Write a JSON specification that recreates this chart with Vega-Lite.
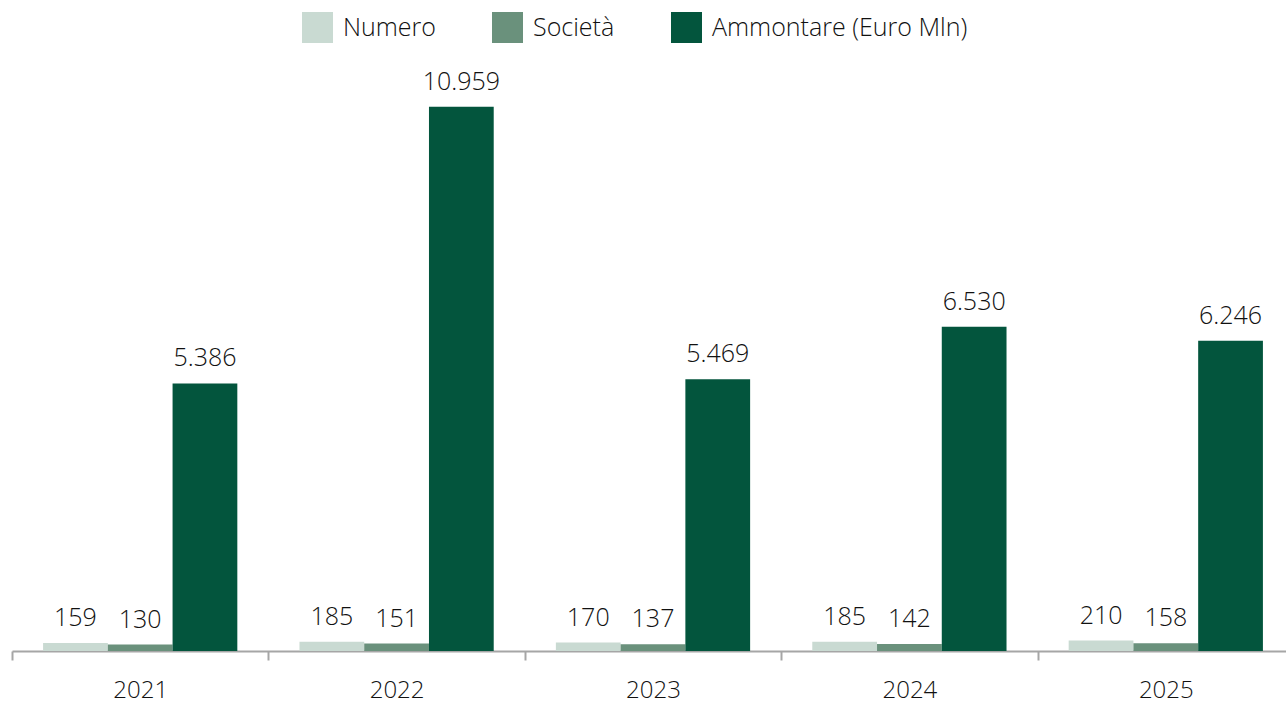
{
  "$schema": "https://vega.github.io/schema/vega-lite/v6.json",
  "width": 1282,
  "height": 596,
  "autosize": "none",
  "padding": {"left": 12, "top": 55, "right": 0, "bottom": 53},
  "config": {
    "view": {"stroke": null},
    "font": "Open Sans",
    "locale": {"number": {"decimal": ",", "thousands": ".", "grouping": [3], "currency": ["€", ""]}}
  },
  "data": {
    "values": [
      {"anno": "2021", "serie": "Numero", "valore": 159},
      {"anno": "2021", "serie": "Società", "valore": 130},
      {"anno": "2021", "serie": "Ammontare (Euro Mln)", "valore": 5386},
      {"anno": "2022", "serie": "Numero", "valore": 185},
      {"anno": "2022", "serie": "Società", "valore": 151},
      {"anno": "2022", "serie": "Ammontare (Euro Mln)", "valore": 10959},
      {"anno": "2023", "serie": "Numero", "valore": 170},
      {"anno": "2023", "serie": "Società", "valore": 137},
      {"anno": "2023", "serie": "Ammontare (Euro Mln)", "valore": 5469},
      {"anno": "2024", "serie": "Numero", "valore": 185},
      {"anno": "2024", "serie": "Società", "valore": 142},
      {"anno": "2024", "serie": "Ammontare (Euro Mln)", "valore": 6530},
      {"anno": "2025", "serie": "Numero", "valore": 210},
      {"anno": "2025", "serie": "Società", "valore": 158},
      {"anno": "2025", "serie": "Ammontare (Euro Mln)", "valore": 6246}
    ]
  },
  "encoding": {
    "x": {
      "field": "anno", "type": "nominal",
      "scale": {"paddingInner": 0, "paddingOuter": 0},
      "axis": {
        "title": null, "labelAngle": 0, "tickBand": "extent",
        "domainColor": "#a6a6a6", "domainWidth": 2,
        "tickColor": "#a6a6a6", "tickWidth": 2, "tickSize": 9,
        "labelFontSize": 24, "labelFontWeight": 300, "labelPadding": 18, "labelColor": "#111111", "labelFont": "Open Sans"
      }
    },
    "xOffset": {
      "field": "serie", "type": "nominal",
      "sort": ["Numero", "Società", "Ammontare (Euro Mln)"],
      "scale": {"paddingInner": 0, "paddingOuter": 0.48}
    },
    "y": {
      "field": "valore", "type": "quantitative",
      "scale": {"domain": [0, 12000], "nice": false},
      "axis": null
    }
  },
  "layer": [
    {
      "mark": {"type": "bar"},
      "encoding": {
        "color": {
          "field": "serie", "type": "nominal",
          "sort": ["Numero", "Società", "Ammontare (Euro Mln)"],
          "scale": {"domain": ["Numero", "Società", "Ammontare (Euro Mln)"], "range": ["#c9dad2", "#6a917c", "#03553d"]},
          "legend": {
            "orient": "none", "legendX": 290, "legendY": -43,
            "direction": "horizontal", "title": null,
            "symbolType": "square", "symbolSize": 961, "symbolStrokeWidth": 0, "symbolOpacity": 1,
            "labelFontSize": 25, "labelFontWeight": 300, "labelOffset": 10, "columnPadding": 56, "labelLimit": 0,
            "labelColor": "#111111", "labelFont": "Open Sans", "padding": 0
          }
        }
      }
    },
    {
      "mark": {"type": "text", "baseline": "bottom", "dy": -12, "fontSize": 25, "fontWeight": 300, "color": "#111111", "font": "Open Sans"},
      "encoding": {
        "text": {"field": "valore", "type": "quantitative", "format": ",d"}
      }
    }
  ]
}
